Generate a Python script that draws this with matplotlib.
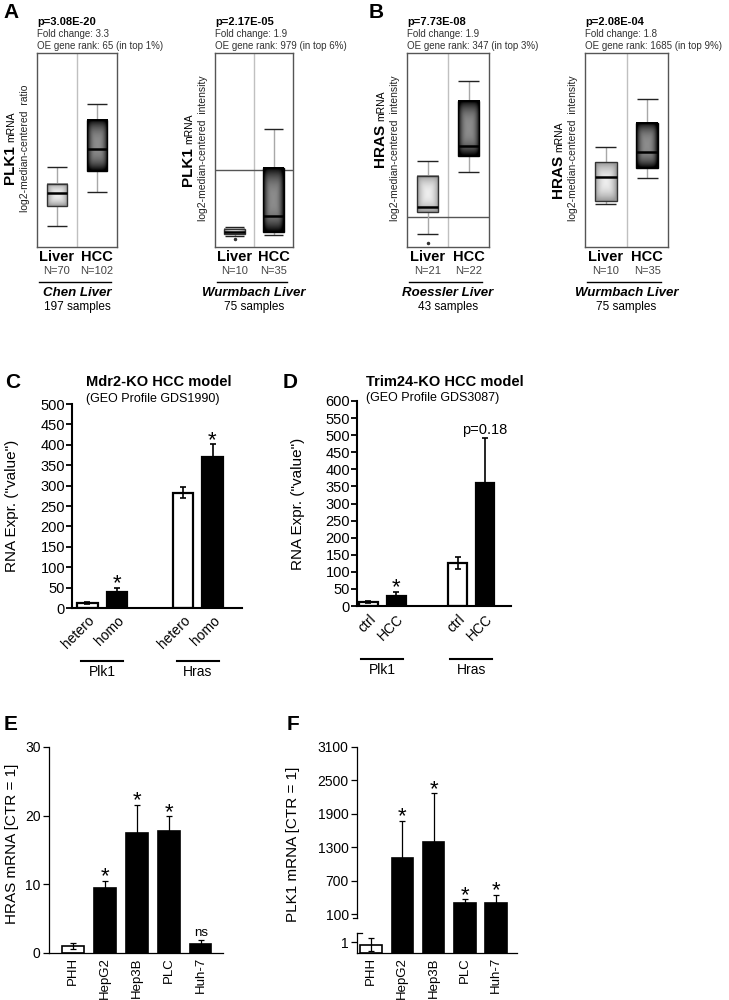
import numpy as np
import matplotlib.pyplot as plt
from matplotlib.patches import Rectangle
from matplotlib.transforms import blended_transform_factory

plt.rcParams['font.family'] = ['Liberation Sans', 'DejaVu Sans']

W, H = 729, 1000


def rect(l, t, r, b):
    # pixel box -> figure fraction
    return [l / W, 1 - b / H, (r - l) / W, (b - t) / H]


# ---------------- A / B : Oncomine box plots ----------------
# stats: whisker low, q1, median, q3, whisker high (arbitrary log2 units, frame = 0..10)
chen_plk1_liver = [1.08, 2.11, 2.78, 3.25, 4.12]
chen_plk1_hcc = [2.84, 3.92, 5.05, 6.55, 7.37]
wurm_plk1_liver = [0.57, 0.67, 0.77, 0.93, 1.03]
wurm_plk1_hcc = [0.62, 0.77, 1.60, 4.07, 6.08]
roes_hras_liver = [0.67, 1.80, 2.06, 3.66, 4.43]
roes_hras_hcc = [3.87, 4.69, 5.21, 7.53, 8.56]
wurm_hras_liver = [2.22, 2.37, 3.61, 4.38, 5.15]
wurm_hras_hcc = [3.56, 4.07, 4.90, 6.39, 7.63]

liver_outliers = [[], [0.41], [0.2], []]
ref_lines = [None, 3.97, 1.55, None]

box_genes = ['PLK1', 'PLK1', 'HRAS', 'HRAS']
box_units = ['ratio', 'intensity', 'intensity', 'intensity']
box_pvals = ['p=3.08E-20', 'p=2.17E-05', 'p=7.73E-08', 'p=2.08E-04']
box_fold = ['3.3', '1.9', '1.9', '1.8']
box_rank = ['65 (in top 1%)', '979 (in top 6%)', '347 (in top 3%)', '1685 (in top 9%)']
box_n = [(70, 102), (10, 35), (21, 22), (10, 35)]
box_study = ['Chen', 'Wurmbach', 'Roessler', 'Wurmbach']
box_samples = [197, 75, 43, 75]

# ---------------- C / D : GEO profiles ----------------
c_groups = ['Plk1', 'Hras']
c_labels = ['hetero', 'homo', 'hetero', 'homo']
c_vals = [11.5, 38.5, 283, 369]
c_err = [2, 10, 14, 32]
c_marks = ['', '*', '', '*']

d_groups = ['Plk1', 'Hras']
d_labels = ['ctrl', 'HCC', 'ctrl', 'HCC']
d_vals = [12, 29, 126, 360]
d_err = [3, 12, 17, 132]
d_marks = ['', '*', '', 'p=0.18']

# ---------------- E / F : cell lines ----------------
cell_lines = ['PHH', 'HepG2', 'Hep3B', 'PLC', 'Huh-7']
e_vals = [1.0, 9.4, 17.5, 17.7, 1.3]
e_err = [0.4, 1.1, 4.1, 2.2, 0.6]
e_marks = ['', '*', '*', '*', 'ns']

f_vals = [0.75, 1111, 1399, 292, 303]
f_err = [0.6, 660, 869, 72, 133]
f_marks = ['', '*', '*', '*', '*']
f_ticks = [1, 100, 700, 1300, 1900, 2500, 3100]

fig = plt.figure(figsize=(W / 100, H / 100), dpi=100)

# gradient used to shade the oncomine boxes
t = np.linspace(-1, 1, 48)
X, Y = np.meshgrid(t, t)
GRAD = np.clip((np.abs(X) ** 5 + np.abs(Y) ** 5) ** 0.2, 0, 1) ** 2


def draw_box(ax, pos, st, dark, w=0.52):
    lo, q1, med, q3, hi = st
    ax.vlines(pos, lo, q1, color='#a8a8a8', lw=1, zorder=1)
    ax.vlines(pos, q3, hi, color='#a8a8a8', lw=1, zorder=1)
    ax.hlines([lo, hi], pos - w * 0.48, pos + w * 0.48, color='#222222', lw=1, zorder=1)
    if dark:
        img = 0.55 * (1 - GRAD ** 1.3)
    else:
        img = 0.93 - 0.33 * GRAD
    ax.imshow(img, cmap='gray', vmin=0, vmax=1, aspect='auto', interpolation='bilinear',
              extent=[pos - w / 2, pos + w / 2, q1, q3], zorder=2)
    ax.add_patch(Rectangle((pos - w / 2, q1), w, q3 - q1, fill=False,
                           ec='black' if dark else '#333333', lw=1, zorder=3))
    ax.hlines(med, pos - w / 2, pos + w / 2, color='black', lw=1.8, zorder=4)


box_sets = [(chen_plk1_liver, chen_plk1_hcc), (wurm_plk1_liver, wurm_plk1_hcc),
            (roes_hras_liver, roes_hras_hcc), (wurm_hras_liver, wurm_hras_hcc)]
box_frames = [(37, 117), (215, 293), (407, 489), (585, 668)]
gene_split = [145, 147, 124, 155]
BT, BB = 53, 247


def by(ypx):
    return (BB - ypx) / (BB - BT)


for i, (liver, hcc) in enumerate(box_sets):
    l, r = box_frames[i]
    ax = fig.add_axes(rect(l, BT, r, BB))
    ax.axvline(1.5, color='#c0c0c0', lw=1, zorder=0)
    if ref_lines[i] is not None:
        ax.axhline(ref_lines[i], color='#555555', lw=1, zorder=0)
    draw_box(ax, 1, liver, False)
    draw_box(ax, 2, hcc, True)
    if liver_outliers[i]:
        ax.plot([1] * len(liver_outliers[i]), liver_outliers[i], 'o', ms=1.5, color='#333333')
    ax.set_xlim(0.5, 2.5)
    ax.set_ylim(0, 10)
    ax.set_xticks([])
    ax.set_yticks([])
    for s in ax.spines.values():
        s.set_color('#555555')
        s.set_linewidth(1)

    ax.text(0, by(22), box_pvals[i], transform=ax.transAxes, fontsize=8, weight='bold', va='center')
    ax.text(0, by(34), 'Fold change: ' + box_fold[i], transform=ax.transAxes, fontsize=7,
            color='#333333', va='center')
    ax.text(0, by(46), 'OE gene rank: ' + box_rank[i], transform=ax.transAxes, fontsize=7,
            color='#333333', va='center')

    ax.text(0.25, by(257), 'Liver', transform=ax.transAxes, ha='center', va='center',
            fontsize=10.5, weight='bold')
    ax.text(0.75, by(257), 'HCC', transform=ax.transAxes, ha='center', va='center',
            fontsize=10.5, weight='bold')
    ax.text(0.25, by(271), 'N=%d' % box_n[i][0], transform=ax.transAxes, ha='center',
            va='center', fontsize=8, color='#444444')
    ax.text(0.75, by(271), 'N=%d' % box_n[i][1], transform=ax.transAxes, ha='center',
            va='center', fontsize=8, color='#444444')
    ax.plot([0.03, 0.92], [by(282)] * 2, transform=ax.transAxes, color='black', lw=1, clip_on=False)
    ax.text(0.5, by(293), box_study[i] + ' Liver', transform=ax.transAxes, ha='center',
            va='center', fontsize=9.5, weight='bold', style='italic')
    ax.text(0.5, by(307), '%d samples' % box_samples[i], transform=ax.transAxes, ha='center',
            va='center', fontsize=8.5)

    # y labels (gene in bold + small "mRNA")
    fig.text((l - 23) / W, 1 - gene_split[i] / H, box_genes[i], rotation=90,
             rotation_mode='anchor', ha='right', va='baseline', fontsize=11, weight='bold')
    fig.text((l - 23) / W, 1 - (gene_split[i] - 3) / H, 'mRNA', rotation=90,
             rotation_mode='anchor', ha='left', va='baseline', fontsize=7.5)
    fig.text((l - 9) / W, 1 - 148 / H, 'log2-median-centered  ' + box_units[i], rotation=90,
             rotation_mode='anchor', ha='center', va='baseline', fontsize=7.5, color='#222222')


def bar_panel(ax, x, vals, errs, fills, width, lw, elw, cap):
    ax.bar(x, vals, width=width, color=fills, edgecolor='black', linewidth=lw, zorder=2)
    ax.errorbar(x, vals, yerr=errs, fmt='none', ecolor='black', elinewidth=elw,
                capsize=cap, capthick=elw, zorder=3)


def add_marks(ax, x, vals, errs, marks, star_size=16, txt_size=9.5):
    for xi, v, e, m in zip(x, vals, errs, marks):
        if m == '*':
            ax.annotate('*', (xi, v + e), xytext=(0, -1), textcoords='offset points',
                        ha='center', va='baseline', fontsize=star_size)
        elif m:
            ax.annotate(m, (xi, v + e), xytext=(0, 1), textcoords='offset points',
                        ha='center', va='bottom', fontsize=txt_size)


def style_axes(ax, lw):
    ax.spines['top'].set_visible(False)
    ax.spines['right'].set_visible(False)
    ax.spines['left'].set_linewidth(lw)
    ax.spines['bottom'].set_linewidth(lw)


def group_lines(ax, x, groups, y_line, y_text, half):
    tr = blended_transform_factory(ax.transData, ax.transAxes)
    for g, name in enumerate(groups):
        c = (x[2 * g] + x[2 * g + 1]) / 2
        ax.plot([c - half, c + half], [y_line] * 2, transform=tr, color='black', lw=1.5,
                clip_on=False)
        ax.text(c, y_text, name, transform=tr, ha='center', va='center', fontsize=10)


pair_fill = ['white', 'black', 'white', 'black']

# ---- C
axC = fig.add_axes(rect(72, 404, 242, 608))
xc = np.array([1, 2, 4.24, 5.24])
bar_panel(axC, xc, c_vals, c_err, pair_fill, 0.68, 1.6, 1.2, 2.5)
add_marks(axC, xc, c_vals, c_err, c_marks)
axC.set_xlim(0.475, 6.24)
axC.set_ylim(0, 500)
axC.set_yticks(range(0, 501, 50))
axC.set_xticks(xc)
axC.set_xticklabels(c_labels, rotation=45, ha='right', rotation_mode='anchor', fontsize=10)
axC.tick_params(axis='x', length=0, pad=4)
axC.tick_params(axis='y', length=4, width=1.3, labelsize=10.5, pad=1)
style_axes(axC, 1.5)
axC.set_ylabel('RNA Expr. ("value")', fontsize=11)
axC.yaxis.set_label_coords(-0.31, 0.5)
group_lines(axC, xc, c_groups, -0.26, -0.315, 0.71)
fig.text(86 / W, 1 - 382 / H, 'Mdr2-KO HCC model', fontsize=10.5, weight='bold', va='center')
fig.text(86 / W, 1 - 399 / H, '(GEO Profile GDS1990)', fontsize=9, va='center')

# ---- D
axD = fig.add_axes(rect(357, 401, 511, 606))
xd = np.array([1, 2, 4.18, 5.16])
bar_panel(axD, xd, d_vals, d_err, pair_fill, 0.66, 1.6, 1.2, 2.5)
add_marks(axD, xd, d_vals, d_err, d_marks, txt_size=10.5)
axD.set_xlim(0.59, 6.09)
axD.set_ylim(0, 600)
axD.set_yticks(range(0, 601, 50))
axD.set_xticks(xd)
axD.set_xticklabels(d_labels, rotation=45, ha='right', rotation_mode='anchor', fontsize=10)
axD.tick_params(axis='x', length=0, pad=4)
axD.tick_params(axis='y', length=4, width=1.3, labelsize=10.5, pad=1)
style_axes(axD, 1.5)
axD.set_ylabel('RNA Expr. ("value")', fontsize=11)
axD.yaxis.set_label_coords(-0.338, 0.5)
group_lines(axD, xd, d_groups, -0.259, -0.312, 0.75)
fig.text(366 / W, 1 - 382 / H, 'Trim24-KO HCC model', fontsize=10.5, weight='bold', va='center')
fig.text(366 / W, 1 - 398 / H, '(GEO Profile GDS3087)', fontsize=9, va='center')

cell_fill = ['white', 'black', 'black', 'black', 'black']

# ---- E
axE = fig.add_axes(rect(49, 747, 223, 953))
xe = np.arange(len(cell_lines))
bar_panel(axE, xe, e_vals, e_err, cell_fill, 0.66, 1.2, 0.9, 2)
add_marks(axE, xe, e_vals, e_err, e_marks, txt_size=9.5)
axE.set_xlim(-0.75, 4.69)
axE.set_ylim(0, 30)
axE.set_yticks([0, 10, 20, 30])
axE.set_xticks(xe)
axE.set_xticklabels(cell_lines, rotation=90, fontsize=9.5)
axE.tick_params(axis='x', length=0, pad=3)
axE.tick_params(axis='y', length=4, width=0.9, labelsize=10, pad=2)
style_axes(axE, 0.9)
axE.set_ylabel('HRAS mRNA [CTR = 1]', fontsize=11)
axE.yaxis.set_label_coords(-0.172, 0.53)

# ---- F (broken axis via piecewise scale)
F_XP = [0, 2, 100, 3100]
F_FP = [0, 22, 39, 206]


def f_fwd(y):
    return np.interp(y, F_XP, F_FP)


def f_inv(y):
    return np.interp(y, F_FP, F_XP)


axF = fig.add_axes(rect(357, 747, 517, 953))
axF.set_yscale('function', functions=(f_fwd, f_inv))
xf = np.arange(len(cell_lines))
bar_panel(axF, xf, f_vals, f_err, cell_fill, 0.69, 1.2, 0.9, 2)
add_marks(axF, xf, f_vals, f_err, f_marks)
axF.set_xlim(-0.45, 4.67)
axF.set_ylim(0, 3100)
axF.set_yticks(f_ticks)
axF.set_yticklabels([str(v) for v in f_ticks])
axF.minorticks_off()
axF.set_xticks(xf)
axF.set_xticklabels(cell_lines, rotation=90, fontsize=9.5)
axF.tick_params(axis='x', length=0, pad=3)
axF.tick_params(axis='y', length=4, width=0.9, labelsize=10, pad=2)
style_axes(axF, 0.9)
axF.spines['left'].set_visible(False)
trF = blended_transform_factory(axF.transAxes, axF.transData)
axF.plot([0, 0], [0, 1.82], transform=trF, color='black', lw=0.9, clip_on=False)
axF.plot([0, 0], [77, 3100], transform=trF, color='black', lw=0.9, clip_on=False)
axF.plot([0, 0.03], [1.82, 1.82], transform=trF, color='black', lw=0.9, clip_on=False)
axF.plot([-0.025, 0], [77, 77], transform=trF, color='black', lw=0.9, clip_on=False)
axF.set_ylabel('PLK1 mRNA [CTR = 1]', fontsize=11)
axF.yaxis.set_label_coords(-0.356, 0.53)

# panel letters
for letter, xp, yp in [('A', 3, 13), ('B', 369, 13), ('C', 5, 382), ('D', 283, 382),
                       ('E', 4, 724), ('F', 287, 725)]:
    fig.text(xp / W, 1 - yp / H, letter, fontsize=15, weight='bold', va='center', ha='left')

fig.savefig('out.png', dpi=100)
